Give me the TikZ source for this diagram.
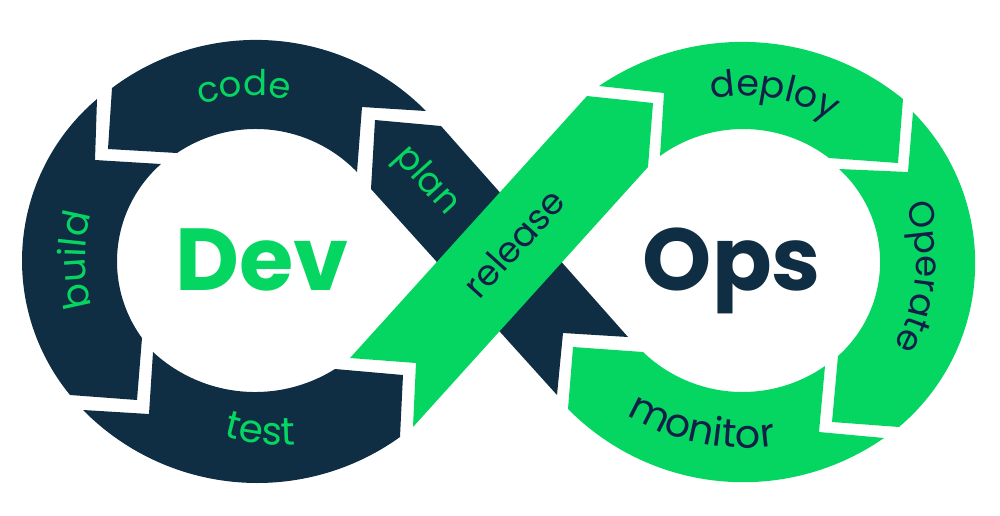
\documentclass[tikz,border=0pt]{standalone}
\usepackage{fontspec}
\usetikzlibrary{decorations.text}
\setmainfont{Poppins}
\newfontfamily\lblfam{Poppins}
\newfontfamily\bigfam{Poppins}[UprightFont=* Bold]
\definecolor{navy}{HTML}{0F2D43}
\definecolor{mint}{HTML}{05D662}
\definecolor{ink}{HTML}{141F48}
\newcommand{\lblfont}[1]{\lblfam\fontsize{#1}{36}\selectfont}
% circle through three points: centre, radius, start and end angle
\newcommand{\fitarc}[6]{%
 \xdef\dd{\fpeval{2*((#1)*((#4)-(#6))+(#3)*((#6)-(#2))+(#5)*((#2)-(#4)))}}%
 \xdef\fcx{\fpeval{round((((#1)^2+(#2)^2)*((#4)-(#6))+((#3)^2+(#4)^2)*((#6)-(#2))+((#5)^2+(#6)^2)*((#2)-(#4)))/\dd,4)}}%
 \xdef\fcy{\fpeval{round((((#1)^2+(#2)^2)*((#5)-(#3))+((#3)^2+(#4)^2)*((#1)-(#5))+((#5)^2+(#6)^2)*((#3)-(#1)))/\dd,4)}}%
 \xdef\fr{\fpeval{round(sqrt(((#1)-\fcx)^2+((#2)-\fcy)^2),4)}}%
 \xdef\fa{\fpeval{atand((#2)-\fcy,(#1)-\fcx)}}%
 \xdef\fmm{\fpeval{atand((#4)-\fcy,(#3)-\fcx)-\fa}}%
 \xdef\fbb{\fpeval{atand((#6)-\fcy,(#5)-\fcx)-\fa}}%
 \xdef\fmm{\fpeval{\fmm-360*floor(\fmm/360)}}%
 \xdef\fbb{\fpeval{\fbb-360*floor(\fbb/360)}}%
 \xdef\fbb{\fpeval{round(\fa+((\fbb>\fmm)?\fbb:\fbb-360),4)}}%
 \xdef\fa{\fpeval{round(\fa,4)}}%
}
\tikzset{
  darkseg/.style={fill=navy},
  greenseg/.style={fill=mint},
  biglabel/.style={anchor=base,inner sep=0pt,font=\bigfam\fontsize{88}{88}\selectfont},
  straightlabel/.style={inner sep=0pt,font=\lblfont{35.5}},
  rim/.style={domain=\fa:\fbb,samples=60},
  onarc/.style n args={3}{decorate,decoration={text along path,text align=center,text color=#1,text={|\lblfont{#2}|#3}}}
}
\begin{document}
\begin{tikzpicture}[x=1pt,y=-1pt]
\useasboundingbox (0,0) rectangle (1000,515);
% left loop
\path[darkseg] \pgfextra{\fitarc{97}{99}{22}{260}{70}{395}} plot[rim] ({\fcx+\fr*cos(\x)},{\fcy+\fr*sin(\x)})
  -- (137,400) -- (142,338) \pgfextra{\fitarc{142}{338}{117}{260}{161}{164}} -- plot[rim] ({\fcx+\fr*cos(\x)},{\fcy+\fr*sin(\x)})
  -- (95,160) -- cycle;
\path[darkseg] \pgfextra{\fitarc{112}{88}{263}{40}{426}{111}} plot[rim] ({\fcx+\fr*cos(\x)},{\fcy+\fr*sin(\x)})
  -- (362,107) -- (357,172) \pgfextra{\fitarc{357}{172}{253}{129}{177}{153}} -- plot[rim] ({\fcx+\fr*cos(\x)},{\fcy+\fr*sin(\x)})
  -- (108,149) -- cycle;
\path[darkseg] \pgfextra{\fitarc{83}{410}{257}{483}{400}{437}} plot[rim] ({\fcx+\fr*cos(\x)},{\fcy+\fr*sin(\x)})
  -- (403,375) -- (335,369) \pgfextra{\fitarc{335}{369}{253}{392}{153}{352}} -- plot[rim] ({\fcx+\fr*cos(\x)},{\fcy+\fr*sin(\x)})
  -- (149,414) -- cycle;
% crossing band
\path[darkseg] (375,120) -- (441,126) -- (628,337) -- (563,333) -- (557,395) -- (371,189) -- cycle;
\path[greenseg] (587,96) -- (653,103) -- (648,167) -- (413,427) -- (416,363) -- (350,358) -- cycle;
% right loop
\path[greenseg] \pgfextra{\fitarc{599}{86}{750}{42}{903}{99}} plot[rim] ({\fcx+\fr*cos(\x)},{\fcy+\fr*sin(\x)})
  -- (898,163) -- (829,158) \pgfextra{\fitarc{829}{158}{743}{129}{660}{156}} -- plot[rim] ({\fcx+\fr*cos(\x)},{\fcy+\fr*sin(\x)})
  -- (664,93) -- cycle;
\path[greenseg] \pgfextra{\fitarc{913}{112}{975}{272}{899}{427}} plot[rim] ({\fcx+\fr*cos(\x)},{\fcy+\fr*sin(\x)})
  -- (832,422) -- (838,356) \pgfextra{\fitarc{838}{356}{880}{267}{839}{169}} -- plot[rim] ({\fcx+\fr*cos(\x)},{\fcy+\fr*sin(\x)})
  -- (908,172) -- cycle;
\path[greenseg] \pgfextra{\fitarc{884}{438}{733}{482}{568}{409}} plot[rim] ({\fcx+\fr*cos(\x)},{\fcy+\fr*sin(\x)})
  -- (573,347) -- (643,352) \pgfextra{\fitarc{643}{352}{743}{392}{825}{366}} -- plot[rim] ({\fcx+\fr*cos(\x)},{\fcy+\fr*sin(\x)})
  -- (819,432) -- cycle;
% centre words
\node[biglabel,text=mint] (dev) at (262,290) {Dev};
\node[biglabel,text=navy] (ops) at (732,290) {Ops};
% straight labels
\node[straightlabel,text=mint,rotate=-48] (plan) at (426,181) {plan};
\node[straightlabel,text=ink,rotate=48] (release) at (514,243) {release};
% curved labels
\path[onarc={mint}{37.5}{build}] plot[domain=130:230,samples=50] ({253+168*cos(\x)},{260+168*sin(\x)});
\path[onarc={mint}{35.5}{code}] plot[domain=227:307,samples=50] ({253+164*cos(\x)},{260+164*sin(\x)});
\path[onarc={mint}{39}{test}] plot[domain=136:56,samples=50] ({280+195*cos(\x)},{250+195*sin(\x)});
\path[onarc={ink}{36.5}{deploy}] plot[domain=230:330,samples=50] ({745+166*cos(\x)},{262+166*sin(\x)});
\path[onarc={ink}{35.5}{Operate}] plot[domain=-50:60,samples=50] ({745+171*cos(\x)},{262+171*sin(\x)});
\path[onarc={ink}{39.5}{monitor}] plot[domain=142:62,samples=50] ({745+224*cos(\x)},{224+224*sin(\x)});
\end{tikzpicture}
\end{document}
